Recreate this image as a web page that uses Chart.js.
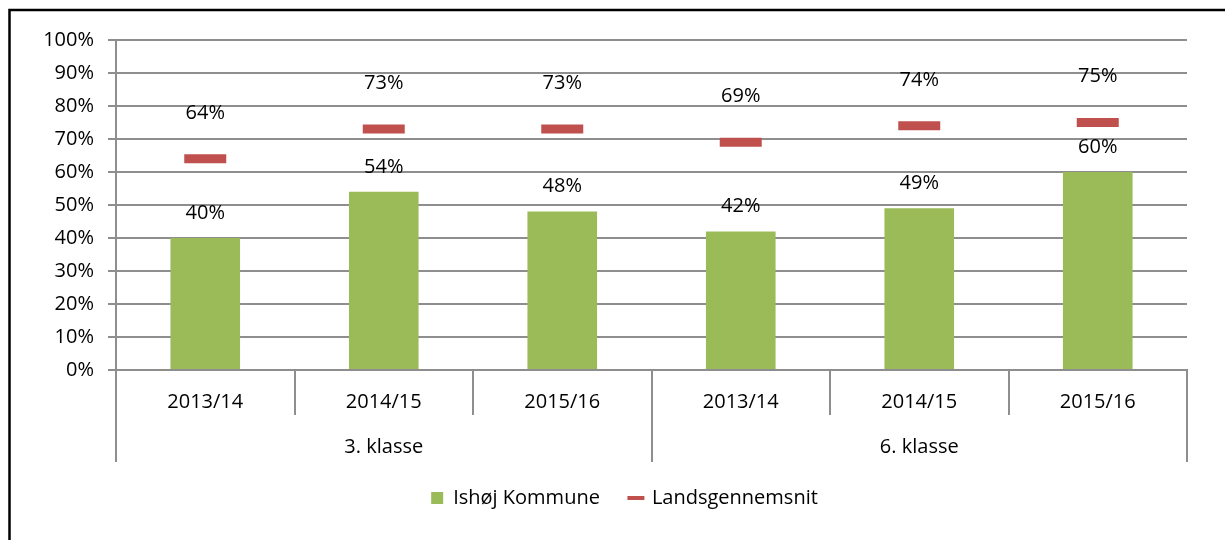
<!DOCTYPE html>
<html>
<head>
<meta charset="utf-8">
<script src="https://cdn.jsdelivr.net/npm/chart.js@4.4.1/dist/chart.umd.min.js"></script>
<style>
  html, body { margin: 0; padding: 0; background: #ffffff; }
  #wrap { position: relative; width: 1225px; height: 540px; }
</style>
</head>
<body>
<div id="wrap"><canvas id="c" width="1225" height="540"></canvas></div>
<script>
// ---- data ----
const years = ['2013/14', '2014/15', '2015/16', '2013/14', '2014/15', '2015/16'];
const groups = ['3. klasse', '6. klasse'];
const groupSizes = [3, 3];
const ishoj = [40, 54, 48, 42, 49, 60];
const lands = [64, 73, 73, 69, 74, 75];
const yTicks = [0, 10, 20, 30, 40, 50, 60, 70, 80, 90, 100];
const seriesNames = ['Ishøj Kommune', 'Landsgennemsnit'];

const FONT = '"Open Sans", sans-serif';
const FS = 20;
const GRID = '#8e8e8e';
const GREEN = '#9BBB59';
const RED = '#C0504D';

const deco = {
  id: 'deco',
  afterLayout(chart) {
    if (chart.legend) {
      chart.legend.left += 31;
      chart.legend.right += 31;
    }
  },
  afterDatasetsDraw(chart) {
    const ctx = chart.ctx;
    const x = chart.scales.x;
    const area = chart.chartArea;
    ctx.save();
    // data labels
    ctx.font = FS + 'px ' + FONT;
    ctx.fillStyle = '#000';
    ctx.textAlign = 'center';
    ctx.textBaseline = 'middle';
    chart.getDatasetMeta(0).data.forEach((el, i) => {
      ctx.fillText(ishoj[i] + '%', el.x, el.y - 25);
    });
    chart.getDatasetMeta(1).data.forEach((el, i) => {
      ctx.fillText(lands[i] + '%', el.x, el.y - 46);
    });
    // category separators
    ctx.strokeStyle = GRID;
    ctx.lineWidth = 2;
    let idx = 0;
    const bounds = [0];
    groupSizes.forEach(s => { idx += s; bounds.push(idx); });
    for (let i = 0; i <= years.length; i++) {
      const px = Math.round(x.getPixelForValue(i - 0.5));
      const long = bounds.includes(i);
      ctx.beginPath();
      ctx.moveTo(px, area.bottom);
      ctx.lineTo(px, area.bottom + (long ? 92 : 45));
      ctx.stroke();
    }
    // group labels
    ctx.fillStyle = '#000';
    for (let g = 0; g < groups.length; g++) {
      const a = x.getPixelForValue(bounds[g] - 0.5);
      const b = x.getPixelForValue(bounds[g + 1] - 0.5);
      ctx.fillText(groups[g], (a + b) / 2, area.bottom + 77);
    }
    // outer frame
    ctx.strokeStyle = '#000';
    ctx.lineWidth = 2.5;
    ctx.beginPath();
    ctx.moveTo(9.5, 540);
    ctx.lineTo(9.5, 10);
    ctx.lineTo(1225, 10);
    ctx.stroke();
    ctx.restore();
  }
};

new Chart(document.getElementById('c'), {
  data: {
    labels: years,
    datasets: [
      {
        type: 'bar',
        label: seriesNames[0],
        data: ishoj,
        backgroundColor: GREEN,
        borderColor: '#ffffff',
        borderWidth: 0,
        barPercentage: 0.39,
        categoryPercentage: 1.0,
        order: 2
      },
      {
        type: 'line',
        label: seriesNames[1],
        data: lands,
        showLine: false,
        borderColor: RED,
        backgroundColor: RED,
        pointStyle: 'line',
        pointRadius: 21,
        pointHoverRadius: 21,
        pointBorderWidth: 9,
        pointBorderColor: RED,
        order: 1
      }
    ]
  },
  options: {
    responsive: false,
    animation: false,
    events: [],
    layout: { padding: { left: 0, right: 38, top: 40, bottom: 22 } },
    plugins: {
      tooltip: { enabled: false },
      legend: {
        position: 'bottom',
        labels: {
          usePointStyle: true,
          boxWidth: 12,
          boxHeight: 12,
          padding: 30,
          color: '#000',
          font: { family: FONT, size: FS },
          generateLabels(chart) {
            return [
              { text: seriesNames[0], fillStyle: GREEN, strokeStyle: GREEN, lineWidth: 0, pointStyle: 'rect', datasetIndex: 0, hidden: false },
              { text: seriesNames[1], fillStyle: RED, strokeStyle: RED, lineWidth: 4, pointStyle: 'line', datasetIndex: 1, hidden: false }
            ];
          }
        }
      }
    },
    scales: {
      x: {
        offset: true,
        grid: { display: false, drawOnChartArea: false, drawTicks: false },
        border: { display: true, color: GRID, width: 2 },
        ticks: { color: '#000', font: { family: FONT, size: FS }, padding: 20, maxRotation: 0, autoSkip: false },
        afterFit(s) { s.height = 88; }
      },
      y: {
        min: 0,
        max: 100,
        afterBuildTicks(s) { s.ticks = yTicks.map(v => ({ value: v })); },
        grid: { color: GRID, lineWidth: 2, tickLength: 8, drawTicks: true },
        border: { display: true, color: GRID, width: 2 },
        ticks: { color: '#000', font: { family: FONT, size: FS }, padding: 14, callback: v => v + '%' },
        afterFit(s) { s.width = 116; }
      }
    }
  },
  plugins: [deco]
});
</script>
</body>
</html>
